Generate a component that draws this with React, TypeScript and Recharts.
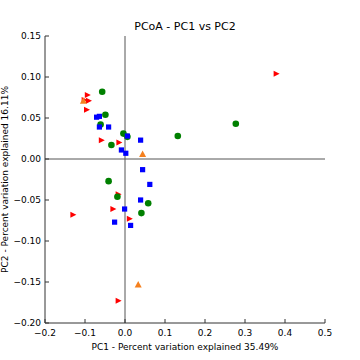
import React from 'react';
import { ScatterChart, Scatter, XAxis, YAxis, ReferenceLine } from 'recharts';

// PCoA coordinates, grouped by marker
const redPoints = [
  { x: 0.379, y: 0.104 },
  { x: -0.093, y: 0.078 },
  { x: -0.101, y: 0.072 },
  { x: -0.09, y: 0.071 },
  { x: -0.095, y: 0.06 },
  { x: -0.058, y: 0.023 },
  { x: -0.014, y: 0.02 },
  { x: -0.016, y: -0.043 },
  { x: -0.029, y: -0.061 },
  { x: 0.012, y: -0.073 },
  { x: -0.129, y: -0.068 },
  { x: -0.016, y: -0.173 },
];

const orangePoints = [
  { x: -0.104, y: 0.071 },
  { x: 0.044, y: 0.006 },
  { x: 0.033, y: -0.153 },
];

const greenPoints = [
  { x: -0.057, y: 0.082 },
  { x: -0.049, y: 0.054 },
  { x: -0.061, y: 0.042 },
  { x: -0.004, y: 0.031 },
  { x: 0.006, y: 0.027 },
  { x: -0.034, y: 0.017 },
  { x: -0.041, y: -0.027 },
  { x: -0.019, y: -0.046 },
  { x: 0.058, y: -0.054 },
  { x: 0.041, y: -0.066 },
  { x: 0.132, y: 0.028 },
  { x: 0.277, y: 0.043 },
];

const bluePoints = [
  { x: -0.071, y: 0.051 },
  { x: -0.064, y: 0.052 },
  { x: -0.064, y: 0.039 },
  { x: -0.041, y: 0.039 },
  { x: 0.006, y: 0.028 },
  { x: 0.039, y: 0.023 },
  { x: -0.009, y: 0.011 },
  { x: 0.002, y: 0.007 },
  { x: 0.044, y: -0.013 },
  { x: 0.062, y: -0.031 },
  { x: 0.039, y: -0.05 },
  { x: -0.001, y: -0.061 },
  { x: -0.026, y: -0.077 },
  { x: 0.014, y: -0.081 },
];

const xTicks = [-0.2, -0.1, 0, 0.1, 0.2, 0.3, 0.4, 0.5];
const yTicks = [0.15, 0.1, 0.05, 0, -0.05, -0.1, -0.15, -0.2];

const FONT = 'DejaVu Sans, sans-serif';
const AXIS_COLOR = '#333';
const TICK_LEN = 4;

const fmt = (v: number, digits: number) => {
  const s = Math.abs(v).toFixed(digits);
  return v < -1e-9 ? '\u2212' + s : s;
};

const BottomTick = (props: any) => {
  const { x, y, payload } = props;
  return (
    <g>
      <line x1={x} y1={y} x2={x} y2={y - TICK_LEN} stroke={AXIS_COLOR} />
      <text x={x} y={y + 13} textAnchor="middle" fontSize={9} fontFamily={FONT} fill="#000">
        {fmt(payload.value, 1)}
      </text>
    </g>
  );
};

const LeftTick = (props: any) => {
  const { x, y, payload } = props;
  return (
    <g>
      <line x1={x} y1={y} x2={x + TICK_LEN} y2={y} stroke={AXIS_COLOR} />
      <text x={x - 4} y={y + 3} textAnchor="end" fontSize={9} fontFamily={FONT} fill="#000">
        {fmt(payload.value, 2)}
      </text>
    </g>
  );
};

const TopTick = (props: any) => {
  const { x, y } = props;
  return <line x1={x} y1={y} x2={x} y2={y + TICK_LEN} stroke={AXIS_COLOR} />;
};

const RightTick = (props: any) => {
  const { x, y } = props;
  return <line x1={x} y1={y} x2={x - TICK_LEN} y2={y} stroke={AXIS_COLOR} />;
};

const RightTriangle = (props: any) => {
  const { cx, cy } = props;
  return <polygon points={`${cx - 3},${cy - 3} ${cx + 3},${cy} ${cx - 3},${cy + 3}`} fill="#ff0000" />;
};

const UpTriangle = (props: any) => {
  const { cx, cy } = props;
  return <polygon points={`${cx},${cy - 3.5} ${cx + 3.5},${cy + 3} ${cx - 3.5},${cy + 3}`} fill="#f5801e" />;
};

const Dot = (props: any) => {
  const { cx, cy } = props;
  return <circle cx={cx} cy={cy} r={3.3} fill="#008000" />;
};

const Square = (props: any) => {
  const { cx, cy } = props;
  return <rect x={cx - 2.6} y={cy - 2.6} width={5.2} height={5.2} fill="#0000ff" />;
};

const YTitle = (props: any) => {
  const { viewBox } = props;
  const cy = viewBox.y + viewBox.height / 2;
  return (
    <text
      x={5}
      y={cy}
      transform={`rotate(-90, 5, ${cy})`}
      textAnchor="middle"
      dominantBaseline="middle"
      fontSize={9}
      fontFamily={FONT}
      fill="#000"
    >
      PC2 - Percent variation explained 16.11%
    </text>
  );
};

const XTitle = (props: any) => {
  const { viewBox } = props;
  const cx = viewBox.x + viewBox.width / 2;
  return (
    <text x={cx} y={350} textAnchor="middle" fontSize={9} fontFamily={FONT} fill="#000">
      PC1 - Percent variation explained 35.49%
    </text>
  );
};

export default function App() {
  return (
    <div style={{ position: 'absolute', left: 0, top: 0, width: 360, height: 360, background: '#fff' }}>
      <div
        style={{
          position: 'absolute',
          left: 45,
          top: 20,
          width: 280,
          textAlign: 'center',
          fontFamily: FONT,
          fontSize: 11,
          lineHeight: '13px',
          color: '#000',
        }}
      >
        PCoA - PC1 vs PC2
      </div>
      <ScatterChart width={360} height={360} margin={{ top: 36, right: 35, bottom: 0, left: 0 }}>
        <XAxis
          xAxisId="main"
          type="number"
          dataKey="x"
          domain={[-0.2, 0.5]}
          ticks={xTicks}
          allowDataOverflow
          height={37}
          stroke={AXIS_COLOR}
          tickLine={false}
          tickSize={0}
          tickMargin={0}
          tick={BottomTick}
          interval={0}
          label={{ content: XTitle }}
        />
        <XAxis
          xAxisId="top"
          orientation="top"
          type="number"
          domain={[-0.2, 0.5]}
          ticks={xTicks}
          allowDataOverflow
          height={0}
          stroke={AXIS_COLOR}
          tickLine={false}
          tickSize={0}
          tickMargin={0}
          tick={TopTick}
          interval={0}
        />
        <YAxis
          yAxisId="main"
          type="number"
          dataKey="y"
          domain={[-0.2, 0.15]}
          ticks={yTicks}
          allowDataOverflow
          width={45}
          stroke={AXIS_COLOR}
          tickLine={false}
          tickSize={0}
          tickMargin={0}
          tick={LeftTick}
          interval={0}
          label={{ content: YTitle }}
        />
        <YAxis
          yAxisId="right"
          orientation="right"
          type="number"
          domain={[-0.2, 0.15]}
          ticks={yTicks}
          allowDataOverflow
          width={0}
          stroke={AXIS_COLOR}
          tickLine={false}
          tickSize={0}
          tickMargin={0}
          tick={RightTick}
          interval={0}
        />
        <ReferenceLine xAxisId="main" yAxisId="main" x={0} stroke="#555" />
        <ReferenceLine xAxisId="main" yAxisId="main" y={0} stroke="#555" />
        <Scatter xAxisId="main" yAxisId="main" data={redPoints} shape={RightTriangle} isAnimationActive={false} />
        <Scatter xAxisId="main" yAxisId="main" data={orangePoints} shape={UpTriangle} isAnimationActive={false} />
        <Scatter xAxisId="main" yAxisId="main" data={greenPoints} shape={Dot} isAnimationActive={false} />
        <Scatter xAxisId="main" yAxisId="main" data={bluePoints} shape={Square} isAnimationActive={false} />
      </ScatterChart>
    </div>
  );
}
